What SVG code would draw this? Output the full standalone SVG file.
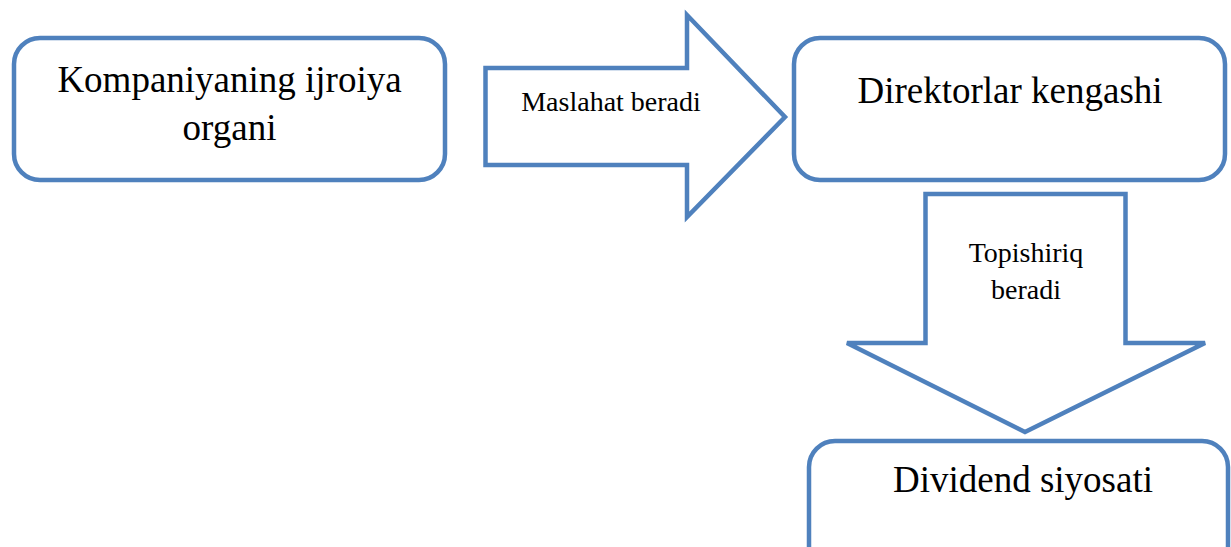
<svg xmlns="http://www.w3.org/2000/svg" width="1231" height="547" viewBox="0 0 1231 547">
<style>
.shape{fill:#ffffff;stroke:#4f81bd;stroke-width:4.5;stroke-linejoin:miter}
.big{font-family:"Liberation Serif","Times New Roman",serif;font-size:37px;fill:#000;text-anchor:middle}
.small{font-family:"Liberation Serif","Times New Roman",serif;font-size:28px;fill:#000;text-anchor:middle}
</style>
<rect width="1231" height="547" fill="#ffffff"/>
<g id="connectors">
<g id="arrow-maslahat">
<polygon class="shape" points="485.5,68 687,68 687,15 785,117 687,217 687,165 485.5,165"/>
<text class="small" x="611" y="111">Maslahat beradi</text>
</g>
<g id="arrow-topshiriq">
<polygon class="shape" points="925.5,194 1125.5,194 1125.5,343 1205,343 1025,432 847,343 925.5,343"/>
<text class="small" x="1026" y="262">Topishiriq</text>
<text class="small" x="1026" y="299">beradi</text>
</g>
</g>
<g id="node-ijroiya">
<rect class="shape" x="14" y="38" width="431" height="142" rx="26" ry="26"/>
<text class="big" x="229.5" y="92">Kompaniyaning ijroiya</text>
<text class="big" x="229.5" y="140">organi</text>
</g>
<g id="node-direktorlar">
<rect class="shape" x="794" y="38" width="431" height="142" rx="26" ry="26"/>
<text class="big" x="1010" y="103">Direktorlar kengashi</text>
</g>
<g id="node-dividend">
<rect class="shape" x="809" y="441" width="419" height="140" rx="26" ry="26"/>
<text class="big" x="1023" y="492">Dividend siyosati</text>
</g>
</svg>
